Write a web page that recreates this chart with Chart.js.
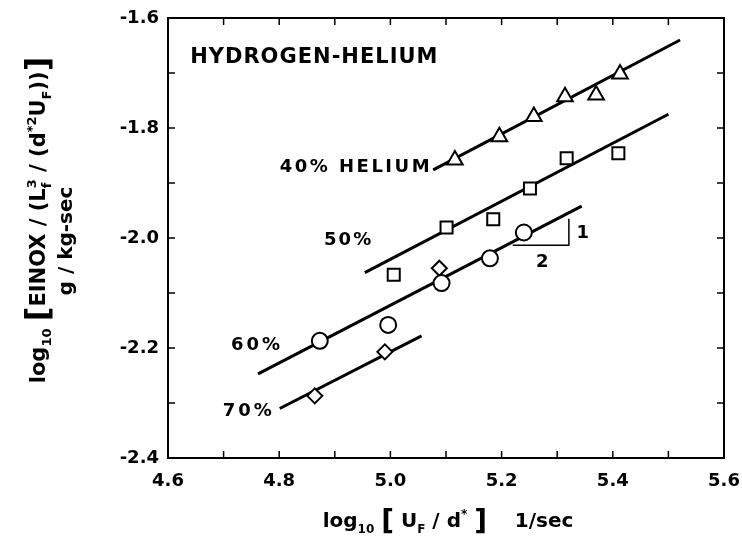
<!DOCTYPE html>
<html>
<head>
<meta charset="utf-8">
<script src="https://cdn.jsdelivr.net/npm/chart.js@4"></script>
<style>
  html, body { margin: 0; padding: 0; background: #fff; }
  #chart { display: block; }
</style>
</head>
<body>
<canvas id="chart" width="742" height="536"></canvas>
<script>
// measured points, one pair of arrays per helium fraction
const he40X = [5.116, 5.196, 5.258, 5.314, 5.370, 5.413];
const he40Y = [-1.858, -1.816, -1.779, -1.743, -1.740, -1.702];
const he50X = [5.006, 5.101, 5.185, 5.251, 5.317, 5.410];
const he50Y = [-2.067, -1.981, -1.966, -1.910, -1.855, -1.846];
const he60X = [4.873, 4.996, 5.092, 5.179, 5.240];
const he60Y = [-2.187, -2.158, -2.082, -2.037, -1.990];
const he70X = [4.864, 4.990, 5.088];
const he70Y = [-2.287, -2.207, -2.055];

// fitted lines (end points)
const fit40 = [[5.077, -1.876], [5.521, -1.640]];
const fit50 = [[4.954, -2.063], [5.500, -1.775]];
const fit60 = [[4.762, -2.247], [5.344, -1.942]];
const fit70 = [[4.801, -2.310], [5.056, -2.178]];

// slope 1/2 guide
const slopeGuide = [[5.220, -2.013], [5.321, -2.013], [5.321, -1.965]];

// axis ticks
const xMajor = [4.6, 4.8, 5.0, 5.2, 5.4, 5.6];
const xMinor = [4.7, 4.9, 5.1, 5.3, 5.5];
const yMajor = [-2.4, -2.2, -2.0, -1.8, -1.6];
const yMinor = [-2.3, -2.1, -1.9, -1.7];

// in-plot labels: text, x, y, alignment, size, spacing
const notes = [
  ["HYDROGEN-HELIUM", 4.640, -1.671, "left", 21, 1],
  ["40% HELIUM", 5.075, -1.871, "right", 18, 2.5],
  ["50%", 4.969, -2.004, "right", 18, 2],
  ["60%", 4.807, -2.195, "right", 18, 3],
  ["70%", 4.792, -2.315, "right", 18, 3],
  ["1", 5.346, -1.991, "center", 18, 0],
  ["2", 5.273, -2.044, "center", 18, 0]
];

const FONT = "'DejaVu Sans', sans-serif";

const toPts = (xs, ys) => xs.map((x, i) => ({x: x, y: ys[i]}));
const toLine = arr => arr.map(p => ({x: p[0], y: p[1]}));

function markers(data, style, radius) {
  return {
    data: data, showLine: false, order: 1,
    pointStyle: style, pointRadius: radius, pointHoverRadius: radius,
    pointBorderColor: "#000", pointBackgroundColor: "#fff", pointBorderWidth: 2
  };
}
function fitLine(data, width) {
  return {
    data: data, showLine: true, order: 2, pointRadius: 0,
    borderColor: "#000", borderWidth: width, borderCapStyle: "butt", fill: false
  };
}

// draw text made of pieces with sub/superscripts, centred on cx
function drawRich(ctx, parts, cx, cy, base) {
  const small = Math.round(base * 0.62);
  let total = 0;
  const widths = parts.map(p => {
    let w = 0;
    if (p.t) {
      ctx.font = "bold " + (p.size || base) + "px " + FONT;
      w = ctx.measureText(p.t).width;
    } else {
      ctx.font = "bold " + small + "px " + FONT;
      w = Math.max(p.sup ? ctx.measureText(p.sup).width : 0, p.sub ? ctx.measureText(p.sub).width : 0);
    }
    total += w;
    return w;
  });
  let x = cx - total / 2;
  ctx.textAlign = "left";
  ctx.textBaseline = "alphabetic";
  parts.forEach((p, i) => {
    if (p.t) {
      ctx.font = "bold " + (p.size || base) + "px " + FONT;
      ctx.fillText(p.t, x, cy + (p.dy || 0));
    }
    ctx.font = "bold " + small + "px " + FONT;
    if (p.sup) ctx.fillText(p.sup, x, cy - base * 0.45);
    if (p.sub) ctx.fillText(p.sub, x, cy + base * 0.3);
    x += widths[i];
  });
}

const decorPlugin = {
  id: "decor",
  afterDatasetsDraw(chart) {
    const ctx = chart.ctx;
    const a = chart.chartArea;
    const xs = chart.scales.x, ys = chart.scales.y;
    ctx.save();
    ctx.strokeStyle = "#000";
    ctx.fillStyle = "#000";

    // frame
    ctx.lineWidth = 2;
    ctx.strokeRect(a.left, a.top, a.right - a.left, a.bottom - a.top);

    // inward ticks on all four sides
    ctx.lineWidth = 1.5;
    ctx.beginPath();
    xMajor.concat(xMinor).forEach(v => {
      const px = xs.getPixelForValue(v);
      ctx.moveTo(px, a.bottom); ctx.lineTo(px, a.bottom - 7);
      ctx.moveTo(px, a.top); ctx.lineTo(px, a.top + 7);
    });
    yMajor.concat(yMinor).forEach(v => {
      const py = ys.getPixelForValue(v);
      ctx.moveTo(a.left, py); ctx.lineTo(a.left + 7, py);
      ctx.moveTo(a.right, py); ctx.lineTo(a.right - 7, py);
    });
    ctx.stroke();

    // labels inside the plot
    ctx.textBaseline = "middle";
    notes.forEach(n => {
      ctx.font = "bold " + n[4] + "px " + FONT;
      ctx.letterSpacing = n[5] + "px";
      ctx.textAlign = n[3];
      ctx.fillText(n[0], xs.getPixelForValue(n[1]), ys.getPixelForValue(n[2]));
    });
    ctx.letterSpacing = "0px";

    // x axis title
    drawRich(ctx, [
      {t: "log"}, {sub: "10"}, {t: " "}, {t: "[", size: 28, dy: 3}, {t: " U"}, {sub: "F"},
      {t: " / d"}, {sup: "*"}, {t: " "}, {t: "]", size: 28, dy: 3}, {t: "    1/sec"}
    ], 448, 527, 20);

    // y axis title, rotated
    ctx.translate(45, 220);
    ctx.rotate(-Math.PI / 2);
    drawRich(ctx, [
      {t: "log"}, {sub: "10"}, {t: " "}, {t: "[", size: 32, dy: 3}, {t: "EINOX / (L"}, {sup: "3", sub: "f"},
      {t: " / (d"}, {sup: "*2"}, {t: "U"}, {sub: "F"}, {t: "))"}, {t: "]", size: 32, dy: 3}
    ], 0, 0, 21);
    drawRich(ctx, [{t: "g / kg-sec"}], -21, 27, 20);
    ctx.restore();
  }
};

new Chart(document.getElementById("chart"), {
  type: "scatter",
  data: {
    datasets: [
      markers(toPts(he40X, he40Y), "triangle", 9),
      markers(toPts(he50X, he50Y), "rect", 8.5),
      markers(toPts(he60X, he60Y), "circle", 8),
      markers(toPts(he70X, he70Y), "rectRot", 7.5),
      fitLine(toLine(fit40), 3),
      fitLine(toLine(fit50), 3),
      fitLine(toLine(fit60), 3),
      fitLine(toLine(fit70), 3),
      fitLine(toLine(slopeGuide), 1.5)
    ]
  },
  options: {
    responsive: false,
    animation: false,
    layout: {padding: {top: 18, right: 18, left: 0, bottom: 0}},
    plugins: {legend: {display: false}, tooltip: {enabled: false}},
    scales: {
      x: {
        type: "linear", min: 4.6, max: 5.6,
        grid: {display: false, drawTicks: false},
        border: {display: false},
        ticks: {
          stepSize: 0.2, padding: 13, color: "#000",
          font: {family: FONT, size: 18, weight: "bold"},
          callback: v => v.toFixed(1)
        },
        afterFit(s) { s.height = 78; s.paddingLeft = 0; s.paddingRight = 0; }
      },
      y: {
        type: "linear", min: -2.4, max: -1.6,
        grid: {display: false, drawTicks: false},
        border: {display: false},
        ticks: {
          stepSize: 0.2, padding: 9, color: "#000",
          font: {family: FONT, size: 18, weight: "bold"},
          callback: v => v.toFixed(1)
        },
        afterFit(s) { s.width = 168; s.paddingTop = 0; s.paddingBottom = 0; }
      }
    }
  },
  plugins: [decorPlugin]
});
</script>
</body>
</html>
